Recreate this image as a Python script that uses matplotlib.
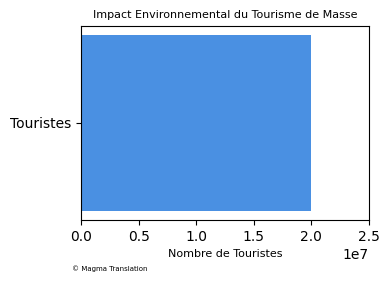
import matplotlib
matplotlib.use("Agg")
import matplotlib.pyplot as plt

categories = ["Touristes"]
values = [20000000]

fig = plt.figure(figsize=(3.9, 2.82), dpi=100)
ax = fig.add_axes([0.208, 0.220, 0.738, 0.688])
ax.barh(categories, values, color="#4A90E2")
ax.set_xlim(0, 25000000)
ax.set_xticks([0, 5e6, 1e7, 1.5e7, 2e7, 2.5e7])
ax.set_title("Impact Environnemental du Tourisme de Masse", fontsize=8)
ax.set_xlabel("Nombre de Touristes", fontsize=8)
fig.text(0.185, 0.04, "© Magma Translation", fontsize=5)
fig.savefig("out.png", dpi=100)
